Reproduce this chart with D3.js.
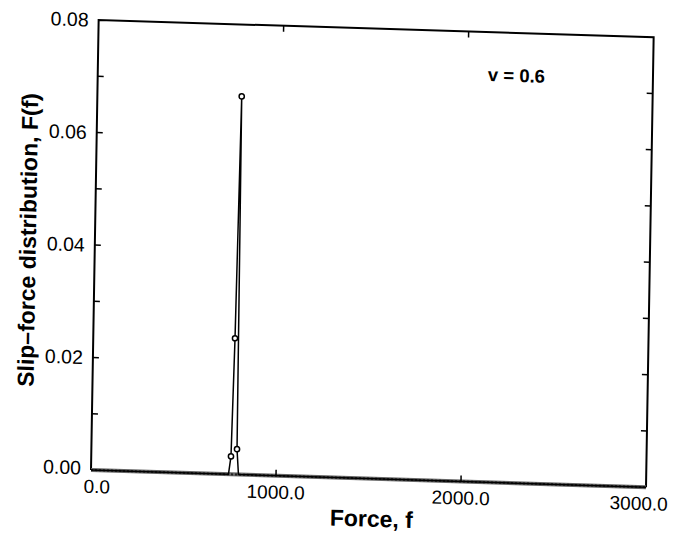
<!DOCTYPE html>
<html><head><meta charset="utf-8">
<script src="https://cdn.jsdelivr.net/npm/d3@7/dist/d3.min.js"></script>
<style>body{margin:0;background:#fff}svg{display:block}text{font-family:"Liberation Sans",Arial,sans-serif}</style>
</head><body>
<svg id="c" width="674" height="534"></svg>
<script>
// Data
const forceValues = [0, 743, 755, 766, 780, 787, 797, 3000];
const sliceValues = [0, 0, 0.0032, 0.0242, 0.0672, 0.0045, 0, 0];
const markerForce = [755, 766, 780, 787];
const markerSlip = [0.0032, 0.0242, 0.0672, 0.0045];
const xTicks = [0, 1000, 2000, 3000];
const xTickLabels = ["0.0", "1000.0", "2000.0", "3000.0"];
const yTicks = [0, 0.02, 0.04, 0.06, 0.08];
const yTickLabels = ["0.00", "0.02", "0.04", "0.06", "0.08"];
const yMinorTicks = [0.01, 0.02, 0.03, 0.04, 0.05, 0.06, 0.07];
const annotation = "v = 0.6";

const W = 555, H = 450;
const svg = d3.select("#c");
// slight skew, as in the scanned original
const g = svg.append("g").attr("transform", "matrix(1,0.031,-0.017,1,91,470)");
const x = d3.scaleLinear().domain([0, 3000]).range([0, W]);
const y = d3.scaleLinear().domain([0, 0.08]).range([0, -H]);

// frame: left, top, right
g.append("path")
  .attr("d", `M${x(0)},${y(0)}V${y(0.08)}H${x(3000)}V${y(0)}`)
  .attr("fill", "none").attr("stroke", "#000").attr("stroke-width", 2);

// bottom axis (gray hatched look)
g.append("line").attr("x1", x(0)).attr("x2", x(3000)).attr("y1", y(0)).attr("y2", y(0))
  .attr("stroke", "#666").attr("stroke-width", 4);
g.append("line").attr("x1", x(0)).attr("x2", x(3000)).attr("y1", y(0)).attr("y2", y(0))
  .attr("stroke", "#222").attr("stroke-width", 2).attr("stroke-dasharray", "2,2");

// ticks inside
const tl = 6;
g.selectAll(".yl").data(yMinorTicks).join("line")
  .attr("x1", x(0)).attr("x2", x(0) + tl).attr("y1", d => y(d)).attr("y2", d => y(d))
  .attr("stroke", "#000").attr("stroke-width", 1.5);
g.selectAll(".yr").data(yMinorTicks).join("line")
  .attr("x1", x(3000)).attr("x2", x(3000) - tl).attr("y1", d => y(d)).attr("y2", d => y(d))
  .attr("stroke", "#000").attr("stroke-width", 1.5);
g.selectAll(".xb").data(xTicks.slice(1, -1)).join("line")
  .attr("x1", d => x(d)).attr("x2", d => x(d)).attr("y1", y(0)).attr("y2", y(0) - tl)
  .attr("stroke", "#000").attr("stroke-width", 1.5);
g.selectAll(".xt").data(xTicks.slice(1, -1)).join("line")
  .attr("x1", d => x(d)).attr("x2", d => x(d)).attr("y1", y(0.08)).attr("y2", y(0.08) + tl)
  .attr("stroke", "#000").attr("stroke-width", 1.5);

// tick labels
g.selectAll(".ytl").data(yTicks).join("text")
  .attr("x", x(0) - 10).attr("y", (d, i) => y(d) + (i === 0 ? -2 : 0))
  .attr("dy", "0.35em").attr("text-anchor", "end")
  .attr("font-size", 19.5).text((d, i) => yTickLabels[i]);
g.selectAll(".xtl").data(xTicks).join("text")
  .attr("x", (d, i) => x(d) + (i === 0 ? 6 : i === 3 ? -7 : 0)).attr("y", y(0) + 23)
  .attr("text-anchor", "middle")
  .attr("font-size", 19).text((d, i) => xTickLabels[i]);

// axis titles
g.append("text").attr("x", 281).attr("y", 48).attr("text-anchor", "middle")
  .attr("font-size", 23).attr("font-weight", "bold").text("Force, f");
g.append("text").attr("transform", "translate(-59,-228) rotate(-90)")
  .attr("text-anchor", "middle").attr("font-size", 23).attr("font-weight", "bold")
  .text("Slip\u2013force distribution, F(f)");

// annotation
g.append("text").attr("x", 390).attr("y", -401).attr("font-size", 18.5)
  .attr("font-weight", "bold").text(annotation);

// data line
const line = d3.line().x(d => x(d[0])).y(d => y(d[1]));
g.append("path").datum(forceValues.map((f, i) => [f, sliceValues[i]]))
  .attr("d", line).attr("fill", "none").attr("stroke", "#000").attr("stroke-width", 1.5);
g.selectAll(".m").data(markerForce.map((f, i) => [f, markerSlip[i]])).join("circle")
  .attr("cx", d => x(d[0])).attr("cy", d => y(d[1])).attr("r", 2.6)
  .attr("fill", "#fff").attr("stroke", "#000").attr("stroke-width", 1.5);
</script>
</body></html>
